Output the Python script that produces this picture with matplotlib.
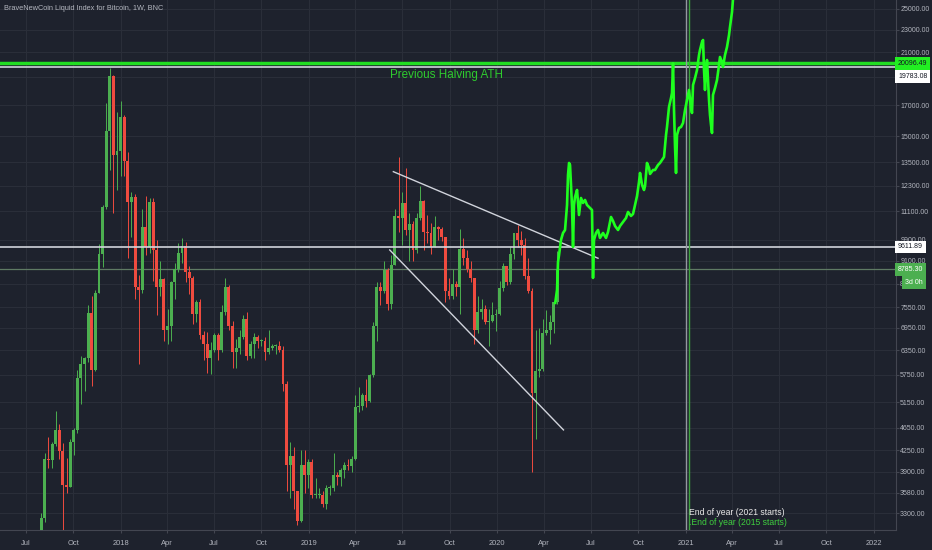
import numpy as np
import pandas as pd
import matplotlib
matplotlib.use('Agg')
import matplotlib.pyplot as plt
import matplotlib.dates as mdates
from matplotlib.ticker import NullLocator, FixedLocator

# weekly candles, BraveNewCoin BTC index, first week starts 2017-07-03
first_week = '2017-07-03'
opens = [2490, 2510, 1930, 2760, 2750, 3240, 4100, 4090, 4350, 4610, 4230, 3700, 3670, 4390, 4610,
         5690, 6010, 6150, 7380, 5860, 8000, 9330, 11300, 15300, 19100, 13900,
         14150, 16200, 13600, 11500, 11750, 8200, 8100, 10400, 9600, 11500, 9500, 8200, 8450,
         6900, 7000, 8350, 8800, 9400, 9650, 8700, 8500, 7350, 7700, 6750, 6500, 6150,
         6350, 6750, 6350, 7400, 8200, 7000, 6300, 6400, 6700, 7200, 6200, 6500, 6700,
         6600, 6600, 6300, 6400, 6450, 6450, 6350, 5550, 4000, 4150, 3600, 3200, 4000, 3850,
         4050, 3550, 3550, 3550, 3420, 3650, 3650, 3850, 3820, 3920, 4000, 3990,
         4100, 5050, 5080, 5300, 5180, 5750, 7000, 8200, 8050, 8750, 7650, 8950, 10900,
         10800, 11450, 10300, 10550, 9500, 10800, 11550, 10200, 10150, 9600, 10400, 10350, 10000,
         8050, 7900, 8300, 8200, 9550, 9200, 8800, 8500, 6900, 7400, 7500, 7100, 7150, 7300,
         7350, 8150, 8900, 8350, 9350, 10150, 9900, 9700, 8550, 8050, 5350, 5850, 5880,
         6800, 6900, 7100, 7700]
highs = [2680, 2540, 2930, 2850, 3300, 4210, 4480, 4400, 4980, 4720, 4380, 4120, 4440, 4640, 5860,
         6200, 6170, 7600, 7880, 8100, 9740, 11400, 17170, 19700, 19200, 16500,
         17250, 16300, 14100, 12000, 11900, 8600, 11200, 11800, 11700, 11700, 9900, 9100, 8500,
         7500, 8400, 9000, 9750, 9980, 9800, 8900, 8550, 7780, 7800, 6850, 6830, 6550,
         6800, 6800, 7600, 8500, 8250, 7150, 6650, 6900, 7300, 7400, 6600, 6800, 6750,
         6650, 6700, 6900, 6500, 6500, 6600, 6450, 5600, 4400, 4300, 3600, 4250, 4250, 4100,
         4100, 3800, 3650, 3600, 3700, 3700, 4200, 3900, 3950, 4050, 4100, 4150,
         5300, 5480, 5350, 5650, 5780, 7100, 8350, 8350, 9100, 8850, 9300, 11200, 13800,
         12000, 13200, 11000, 10650, 11000, 12300, 11600, 10950, 10600, 10900, 10450, 10400, 10000,
         8500, 8800, 8400, 10350, 9950, 9500, 9100, 8500, 7900, 7800, 7600, 7500, 7700, 7500,
         8400, 9000, 8900, 9600, 10150, 10500, 10250, 9950, 9200, 8150, 6900, 6950, 7200,
         7450, 7300, 7750, 9450]
lows = [2470, 1840, 1910, 2450, 2650, 3180, 3960, 3960, 4330, 4100, 2970, 3580, 3660, 4170, 4560,
        5110, 5380, 6060, 5500, 5850, 7990, 8870, 11200, 13100, 11000, 12100,
        12800, 12800, 9200, 10000, 7800, 6000, 8000, 9300, 9400, 8400, 7300, 7900, 6600,
        6500, 6600, 7800, 8700, 9000, 8350, 7950, 7050, 7100, 6650, 6100, 5800, 5780,
        6300, 6100, 6300, 7300, 6900, 5900, 5900, 6250, 6650, 6100, 6150, 6150, 6400,
        6450, 6100, 6250, 6350, 6250, 6300, 5400, 3600, 3500, 3350, 3150, 3180, 3580, 3650,
        3500, 3500, 3500, 3380, 3350, 3550, 3600, 3700, 3680, 3800, 3930, 3900,
        4080, 4950, 5000, 5050, 5150, 5700, 6600, 7600, 8000, 7450, 7500, 8950, 10200,
        9700, 10100, 9100, 9100, 9400, 10700, 9500, 9750, 9350, 9600, 9900, 9850, 7700,
        7800, 7800, 7900, 7350, 8950, 8700, 8350, 6500, 6800, 7200, 7050, 6450, 7100, 6850,
        7300, 8050, 8250, 8300, 9150, 9600, 9300, 8450, 8000, 3900, 4450, 5700, 5850,
        6750, 6500, 6800, 7650]
closes = [2510, 1930, 2760, 2750, 3240, 4100, 4090, 4350, 4610, 4230, 3700, 3670, 4390, 4610, 5690,
          6010, 6150, 7380, 5860, 8000, 9330, 11300, 15300, 19100, 13900, 14150,
          16200, 13600, 11500, 11750, 8200, 8100, 10400, 9600, 11500, 9500, 8200, 8450, 6900,
          7000, 8350, 8800, 9400, 9650, 8700, 8500, 7350, 7700, 6750, 6500, 6150, 6350,
          6750, 6350, 7400, 8200, 7000, 6300, 6400, 6700, 7200, 6200, 6500, 6700, 6600,
          6600, 6300, 6400, 6450, 6450, 6350, 5550, 4000, 4150, 3600, 3200, 4000, 3850, 4050,
          3550, 3550, 3550, 3420, 3650, 3650, 3850, 3820, 3920, 4000, 3990, 4100,
          5050, 5080, 5300, 5180, 5750, 7000, 8200, 8050, 8750, 7650, 8950, 10900, 10800,
          11450, 10300, 10550, 9500, 10800, 11550, 10200, 10150, 9600, 10400, 10350, 10000, 8050,
          7900, 8300, 8200, 9550, 9200, 8800, 8500, 6900, 7400, 7500, 7100, 7150, 7300, 7350,
          8150, 8900, 8350, 9350, 10150, 9900, 9700, 8550, 8050, 5350, 5850, 5880, 6800,
          6900, 7100, 7700, 8785.30]

# projected fractal path (days after 2020-04-20, price)
proj_start = '2020-04-20'
proj_days = [3, 6.5, 8.4, 10.4, 14.2, 18.1, 22, 25.9, 27.8, 29.8, 31.7, 33.6, 35.6, 37.5, 39.4,
             41.4, 45.3, 49.1, 53, 56.9, 60.8, 64.6, 68.5, 74.3, 76.3, 78.2, 82.1, 86, 89.8,
             95.7, 101.5, 105.4, 111.2, 115.1, 119, 124.8, 128.7, 134.5, 140.3, 144.2, 150,
             153.9, 157.8, 161.7, 165.5, 167.5, 171.4, 175.2, 177.2, 181, 184.9, 186.9, 192.7,
             196.5, 202.4, 206.2, 210.1, 214, 217.9, 219.8, 223.7, 227.6, 229.5, 231.5, 233.4,
             235.4, 237.3, 239.2, 243.1, 247, 250.9, 254.8, 258.6, 262.5, 266.4, 268.3, 270.3,
             274.2, 278, 281.9, 283.8, 287.7, 289.7, 291.6, 293.5, 295.5, 297.4, 299.4, 301.3,
             303.2, 305.2, 307.1, 309, 312.9, 316.8, 320.7, 322.6, 326.5, 328.4, 332.3, 336.2,
             340.1, 342, 345.9, 347.8, 349.8]
proj_price = [7678, 8088, 9050, 9308, 9887, 10168, 10291, 11380, 12835, 13470, 13362, 12330,
              11288, 9612, 11380, 11750, 12085, 10930, 11702, 11470, 11610, 11380, 11288, 11152,
              8488, 9887, 10168, 10291, 9967, 10168, 9967, 10210, 10843, 10670, 10458, 10291,
              10458, 10628, 10800, 11063, 10888, 10975, 11380, 11798, 12480, 12940, 12330, 12085,
              12280, 13470, 13200, 12888, 13095, 13095, 13362, 13470, 13633, 13797, 15072, 15565,
              16868, 17488, 17842, 20096, 16665, 14365, 12940, 15072, 15502, 15565, 15817, 16665,
              17347, 18058, 16800, 16466, 18424, 18950, 19568, 20782, 21206, 21897, 22072, 19568,
              18058, 19568, 20370, 18797, 17347, 16333, 15690, 15193, 17700, 18202, 18797, 19965,
              20617, 20208, 19805, 20782, 21462, 22522, 23257, 24700, 26000, 27000]

# trend lines (date, price)
upper_line = (['2019-06-14', '2020-07-15'], [13007, 9187])
lower_line = (['2019-06-07', '2020-05-09'], [9497, 4610])

ath_prev = 20096.49
ath_line = 19783.08
res_line = 9611.89
last_price = 8785.30

y_ticks = [3300, 3580, 3900, 4250, 4650, 5150, 5750, 6350, 6950, 7550, 8300, 9100, 9900,
           11100, 12300, 13500, 15000, 17000, 19000, 21000, 23000, 25000]
x_tick_dates = ['2017-07-01', '2017-10-01', '2018-01-01', '2018-04-01', '2018-07-01', '2018-10-01',
                '2019-01-01', '2019-04-01', '2019-07-01', '2019-10-01', '2020-01-01', '2020-04-01',
                '2020-07-01', '2020-10-01', '2021-01-01', '2021-04-01', '2021-07-01', '2021-10-01',
                '2022-01-01']
x_tick_labels = ['Jul', 'Oct', '2018', 'Apr', 'Jul', 'Oct', '2019', 'Apr', 'Jul', 'Oct', '2020',
                 'Apr', 'Jul', 'Oct', '2021', 'Apr', 'Jul', 'Oct', '2022']

bg = '#1e222d'
grid_c = '#2a2e39'
txt_c = '#b2b5be'
up_c = '#4caf50'
dn_c = '#ef4b3f'
lime = '#1eff1e'

plt.rcParams['font.family'] = ['Liberation Sans', 'DejaVu Sans']

fig = plt.figure(figsize=(9.32, 5.5), dpi=100, facecolor=bg)
ax = fig.add_axes([0, 20 / 550, 896 / 932, 530 / 550], facecolor=bg)
ax.set_yscale('log')
ax.set_ylim(3084, 25920)
ax.set_xlim(mdates.date2num(pd.Timestamp('2017-05-12')), mdates.date2num(pd.Timestamp('2022-02-13')))

# candles
o = np.array(opens, float)
h = np.array(highs, float)
l = np.array(lows, float)
c = np.array(closes, float)
x = mdates.date2num(pd.date_range(first_week, periods=len(c), freq='7D'))
cols = np.where(c >= o, up_c, dn_c)
bot = np.minimum(o, c)
top = np.maximum(np.maximum(o, c), bot * 1.004)
ax.vlines(x, l, h, colors=cols, lw=0.7, zorder=3)
ax.bar(x, top - bot, bottom=bot, width=5.6, color=cols, linewidth=0, zorder=4)

# projection
px = mdates.date2num(pd.Timestamp(proj_start)) + np.array(proj_days)
ax.plot(px, proj_price, color=lime, lw=1.9, zorder=6, solid_joinstyle='round')

# trend lines
for dts, vals in (upper_line, lower_line):
    ax.plot(mdates.date2num(pd.to_datetime(dts)), vals, color='#d1d4dc', lw=1, zorder=5)

# horizontal levels
ax.axhline(ath_prev, color='#22dd22', lw=2.5, zorder=5)
ax.axhline(ath_line, color='#d1d4dc', lw=1.2, zorder=5)
ax.axhline(res_line, color='#d1d4dc', lw=1.2, zorder=5)
ax.axhline(last_price, color='#5f7a64', lw=0.9, zorder=2)

# year-end verticals
ax.axvline(mdates.date2num(pd.Timestamp('2021-01-01')), color='#9598a1', lw=1, zorder=5)
ax.axvline(mdates.date2num(pd.Timestamp('2021-01-07')), color='#3fa33f', lw=1, zorder=5)

ax.text(mdates.date2num(pd.Timestamp('2019-09-26')), 19170, 'Previous Halving ATH',
        color='#2ecc2e', fontsize=8.4, ha='center', va='center', zorder=7)
ax.text(mdates.date2num(pd.Timestamp('2021-01-08')), 3302, 'End of year (2021 starts)',
        color='#e8e8e8', fontsize=6.2, ha='left', va='center', zorder=7)
ax.text(mdates.date2num(pd.Timestamp('2021-01-08')), 3173, '.End of year (2015 starts)',
        color='#3fcf3f', fontsize=6.2, ha='left', va='center', zorder=7)

# axes styling
for s in ['top', 'left']:
    ax.spines[s].set_visible(False)
for s in ['right', 'bottom']:
    ax.spines[s].set_color('#434651')
ax.yaxis.tick_right()
ax.yaxis.set_major_locator(FixedLocator(y_ticks))
ax.yaxis.set_minor_locator(NullLocator())
ax.set_yticklabels([f'{v:.2f}' for v in y_ticks])
ax.set_xticks(mdates.date2num(pd.to_datetime(x_tick_dates)))
ax.set_xticklabels(x_tick_labels)
ax.tick_params(axis='both', colors='#434651', labelcolor=txt_c, labelsize=5, length=2)
ax.tick_params(axis='y', pad=1)
ax.tick_params(axis='x', pad=5, labelsize=5.4)
ax.grid(True, color=grid_c, lw=0.8, zorder=0)
ax.set_axisbelow(True)


def price_label(val, text, fc, tc, dy=0, dx=1.5):
    ax.annotate(text, xy=(1, val), xycoords=ax.get_yaxis_transform(), xytext=(dx, dy),
                textcoords='offset points', va='center', ha='left', fontsize=5, color=tc,
                bbox=dict(boxstyle='square,pad=0.4', fc=fc, ec='none'),
                annotation_clip=False, zorder=10)


price_label(ath_prev, '20096.49', '#22ee22', '#131722')
price_label(ath_line, '19783.08', '#ffffff', '#131722', dy=-6.5)
price_label(res_line, '9611.89', '#ffffff', '#131722')
price_label(last_price, '8785.30', '#4caf50', '#ffffff')
price_label(last_price, '3d 0h', '#4caf50', '#ffffff', dy=-9.5, dx=6.5)

fig.text(4 / 932, 1 - 9 / 550, 'BraveNewCoin Liquid Index for Bitcoin, 1W, BNC',
         color=txt_c, fontsize=5.3, va='center', ha='left')

fig.savefig('out.png', dpi=100, facecolor=bg)
